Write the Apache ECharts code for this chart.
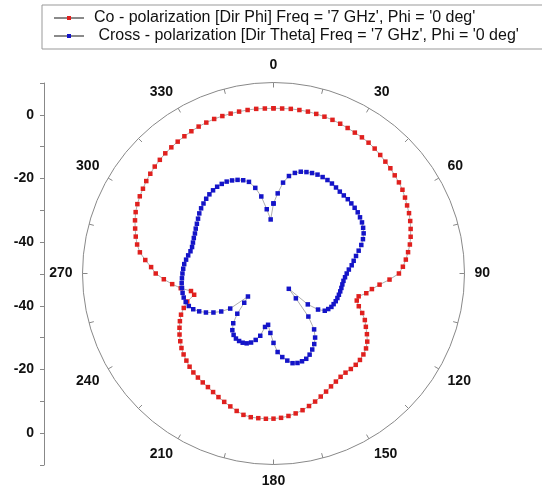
<!DOCTYPE html>
<html>
<head>
<meta charset="utf-8">
<script src="https://cdn.jsdelivr.net/npm/echarts@6/dist/echarts.min.js"></script>
<style>
  html, body { margin: 0; padding: 0; background: #fff; }
  #chart { width: 542px; height: 491px; }
</style>
</head>
<body>
<div id="chart"></div>
<script>
// angle (deg) of each sample
const angles = [
  0, 3, 6, 9, 12, 15, 18, 21, 24, 27, 30, 33, 36, 39, 42, 45, 48, 51, 54, 57,
  60, 63, 66, 69, 72, 75, 78, 81, 84, 87, 90, 93, 96, 99, 102, 105, 108, 111, 114, 117,
  120, 123, 126, 129, 132, 135, 138, 141, 144, 147, 150, 153, 156, 159, 162, 165, 168, 171, 174, 177,
  180, 183, 186, 189, 192, 195, 198, 201, 204, 207, 210, 213, 216, 219, 222, 225, 228, 231, 234, 237,
  240, 243, 246, 249, 252, 255, 258, 261, 264, 267, 270, 273, 276, 279, 282, 285, 288, 291, 294, 297,
  300, 303, 306, 309, 312, 315, 318, 321, 324, 327, 330, 333, 336, 339, 342, 345, 348, 351, 354, 357
]

// Co - polarization, dB
const coPol = [
  1.9, 1.9, 2.0, 2.0, 2.0, 1.9, 1.8, 1.7, 1.5, 1.3, 1.1, 1.0, 0.8, 0.5, 0.1, -0.3, -0.6, -1.0, -1.3, -1.7,
  -2.3, -2.9, -3.4, -4.0, -4.7, -5.4, -6.2, -7.2, -8.2, -9.3, -10.6, -13.5, -16.5, -18.7, -20.2, -22.3, -22.5, -21.3, -19.5, -17.8,
  -16.5, -15.0, -13.6, -12.6, -12.0, -11.6, -11.4, -11.4, -11.5, -11.3, -10.8, -10.2, -9.4, -8.6, -7.7, -6.9, -6.1, -5.5, -5.0, -4.6,
  -4.4, -4.3, -4.3, -4.3, -4.6, -5.3, -6.1, -6.8, -7.5, -8.2, -8.8, -9.2, -9.6, -10.0, -10.6, -11.3, -12.0, -12.8, -13.8, -14.8,
  -15.9, -17.0, -18.2, -19.8, -21.5, -24.2, -23.5, -20.5, -18.0, -15.5, -13.0, -11.5, -9.5, -7.5, -6.2, -5.2, -4.3, -3.4, -2.6, -2.0,
  -1.5, -1.1, -0.6, -0.2, 0.2, 0.5, 0.8, 1.0, 1.2, 1.4, 1.6, 1.8, 1.9, 2.0, 2.0, 2.0, 2.0, 2.0, 2.0, 1.9
]

// Cross - polarization, dB
const crossPol = [
  -28.0, -24.8, -21.3, -19.0, -17.7, -16.9, -16.5, -16.2, -16.0, -16.0, -16.1, -16.3, -16.6, -16.9, -17.0, -17.0, -17.1, -17.2, -17.3, -17.6,
  -17.9, -18.4, -19.0, -19.9, -21.0, -22.3, -23.5, -24.5, -25.3, -26.3, -27.0, -27.5, -27.9, -28.1, -28.2, -28.3, -28.4, -28.5, -28.6, -28.8,
  -29.0, -29.5, -30.1, -32.0, -35.5, -43.2, -39.5, -32.6, -28.3, -26.0, -24.4, -23.2, -22.1, -21.3, -21.0, -20.9, -21.2, -22.3, -23.6, -25.3,
  -28.2, -31.3, -33.8, -33.0, -30.0, -28.4, -27.2, -26.5, -26.2, -26.2, -26.4, -27.0, -28.0, -29.9, -33.0, -37.0, -39.2, -32.5, -29.7, -27.5,
  -25.5, -23.8, -22.4, -21.5, -21.0, -20.8, -20.8, -20.9, -21.0, -21.2, -21.4, -21.6, -21.8, -22.2, -22.6, -23.0, -23.1, -22.9, -22.6, -22.3,
  -21.8, -21.3, -20.7, -20.0, -19.4, -18.9, -18.4, -18.0, -17.7, -17.5, -17.5, -17.6, -18.0, -18.5, -19.2, -20.2, -22.5, -25.5, -29.7, -33.0
]

// left scale: distance from centre (dB above -50) and the text shown for it
const radialTicks = [50, 30, 10, -10, -30, -50]
const radialTickLabels = ['0', '-20', '-40', '-40', '-20', '0']

const seriesNames = [
  "Co - polarization [Dir Phi] Freq = '7 GHz', Phi = '0 deg'",
  " Cross - polarization [Dir Theta] Freq = '7 GHz', Phi = '0 deg'",
]

const toPolar = (vals) => {
  const pts = angles.map((a, i) => [vals[i], a])
  pts.push([vals[0], 360]) // close the loop
  return pts
}

const chart = echarts.init(document.getElementById('chart'), null, { renderer: 'canvas' })

const labelFont = { color: '#111', fontFamily: 'Liberation Sans, Arial, sans-serif', fontWeight: 'bold', fontSize: 14 }

chart.setOption({
  animation: false,
  legend: {
    orient: 'vertical',
    left: 42,
    top: 5,
    itemGap: 0,
    itemWidth: 30,
    itemHeight: 5,
    padding: [4, 80, 4, 11],
    borderColor: '#999',
    borderWidth: 1,
    textStyle: {
      color: '#111',
      fontFamily: 'Liberation Sans, Arial, sans-serif',
      fontSize: 16,
      lineHeight: 18,
      padding: [0, 0, 0, 5],
    },
    data: seriesNames,
  },
  polar: {
    center: [273.5, 273.5],
    radius: 191,
  },
  angleAxis: {
    type: 'value',
    min: 0,
    max: 360,
    interval: 15,
    startAngle: 90,
    clockwise: true,
    axisLine: { lineStyle: { color: '#888', width: 1 } },
    axisTick: { inside: true, length: 5, lineStyle: { color: '#888' } },
    axisLabel: {
      ...labelFont,
      margin: 10,
      formatter: v => (v % 30 === 0 && v < 360 ? String(v) : ''),
    },
    splitLine: { show: false },
  },
  radiusAxis: {
    type: 'value',
    min: -50,
    max: 10,
    axisLine: { show: false },
    axisTick: { show: false },
    axisLabel: { show: false },
    splitLine: { show: false },
  },
  grid: {
    left: 44,
    top: 83,
    width: 1,
    height: 382,
  },
  xAxis: { type: 'value', show: false },
  yAxis: {
    type: 'value',
    min: -60,
    max: 60,
    interval: 10,
    axisLine: { show: true, lineStyle: { color: '#888' } },
    axisTick: { show: true, length: 4, lineStyle: { color: '#888' } },
    axisLabel: {
      ...labelFont,
      margin: 10,
      formatter: v => {
        const i = radialTicks.indexOf(v)
        return i >= 0 ? radialTickLabels[i] : ''
      },
    },
    splitLine: { show: false },
  },
  series: [
    {
      name: seriesNames[0],
      type: 'line',
      coordinateSystem: 'polar',
      data: toPolar(coPol),
      symbol: 'rect',
      symbolSize: 4.5,
      itemStyle: { color: '#e0201e' },
      lineStyle: { color: '#8a8a8a', width: 0.7 },
    },
    {
      name: seriesNames[1],
      type: 'line',
      coordinateSystem: 'polar',
      data: toPolar(crossPol),
      symbol: 'rect',
      symbolSize: 4.5,
      itemStyle: { color: '#1414c8' },
      lineStyle: { color: '#8a8a8a', width: 0.7 },
    },
  ],
})
</script>
</body>
</html>
